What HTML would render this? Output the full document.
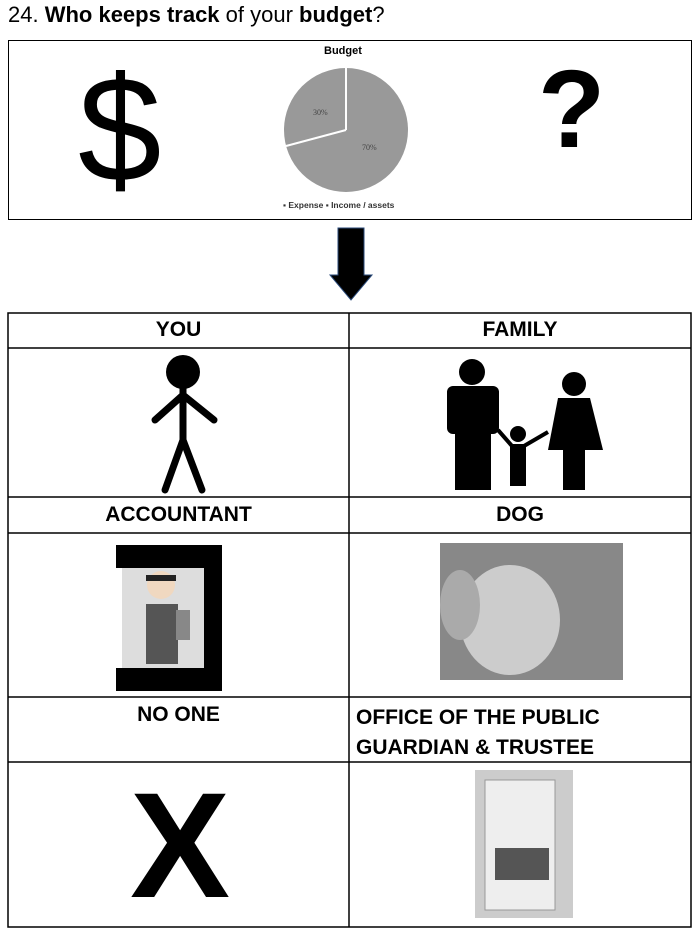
<!DOCTYPE html><html><head><style>
body{margin:0;width:700px;height:934px;background:#fff;font-family:"Liberation Sans",sans-serif;position:relative;overflow:hidden}
.a{position:absolute}
.h{position:absolute;font-weight:bold;font-size:21px;text-align:center}
</style></head><body>
<div class="a" style="left:8px;top:2px;font-size:22px;">24. <b>Who keeps track</b> of your <b>budget</b>?</div>
<div class="a" style="left:8px;top:40px;width:682px;height:178px;border:1.5px solid #000"></div>
<div class="a" style="left:78px;top:44px;font-size:150px;line-height:170px;">$</div>
<div class="a" style="left:538px;top:50px;font-size:110px;font-weight:bold;line-height:120px;">?</div>
<div class="a" style="left:324px;top:45px;font-size:11px;font-weight:bold;">Budget</div>
<svg class="a" style="left:0;top:0" width="700" height="934">
<circle cx="346" cy="130" r="62" fill="#999"/>
<path d="M346 130 L346 68 M346 130 L286 146" stroke="#fff" stroke-width="2"/>
<text x="313" y="115" font-size="8" fill="#444" font-family="Liberation Serif">30%</text>
<text x="362" y="150" font-size="8" fill="#444" font-family="Liberation Serif">70%</text>
<text x="283" y="208" font-size="8.5" fill="#333" font-weight="bold">▪ Expense  ▪ Income / assets</text>
<polygon points="338,228 364,228 364,275 372,275 351,300 330,275 338,275" fill="#000" stroke="#2a4a7a" stroke-width="1"/>
<g stroke="#000" stroke-width="1.5" fill="none">
<rect x="8" y="313" width="683" height="614"/>
<line x1="349" y1="313" x2="349" y2="927"/>
<line x1="8" y1="348" x2="691" y2="348"/><line x1="8" y1="497" x2="691" y2="497"/>
<line x1="8" y1="533" x2="691" y2="533"/><line x1="8" y1="697" x2="691" y2="697"/>
<line x1="8" y1="762" x2="691" y2="762"/>
</g>
<!-- stick figure -->
<circle cx="183" cy="372" r="17" fill="#000"/>
<g stroke="#000" stroke-width="7" stroke-linecap="round"><line x1="183" y1="388" x2="183" y2="440"/><line x1="183" y1="395" x2="155" y2="420"/><line x1="183" y1="395" x2="214" y2="420"/><line x1="183" y1="440" x2="165" y2="490"/><line x1="183" y1="440" x2="202" y2="490"/></g>
<!-- family -->
<circle cx="472" cy="372" r="13" fill="#000"/>
<rect x="447" y="386" width="52" height="48" rx="6" fill="#000"/>
<rect x="455" y="430" width="36" height="60" fill="#000"/>
<circle cx="518" cy="434" r="8" fill="#000"/>
<rect x="510" y="444" width="16" height="42" fill="#000"/>
<path d="M498 430 L512 446 M524 446 L548 432" stroke="#000" stroke-width="4"/>
<circle cx="574" cy="384" r="12" fill="#000"/>
<path d="M558 398 L590 398 L603 450 L548 450 Z" fill="#000"/>
<rect x="563" y="448" width="22" height="42" fill="#000"/>
<!-- accountant -->
<path d="M116 545 L222 545 L222 691 L116 691 L116 668 L204 668 L204 568 L116 568 Z" fill="#000"/>
<rect x="122" y="568" width="82" height="100" fill="#ddd"/>
<circle cx="161" cy="585" r="14" fill="#f0d8c0"/><rect x="146" y="575" width="30" height="6" fill="#222"/>
<rect x="146" y="604" width="32" height="60" fill="#555"/>
<rect x="176" y="610" width="14" height="30" fill="#888"/>
<!-- dog -->
<rect x="440" y="543" width="183" height="137" fill="#888"/>
<ellipse cx="510" cy="620" rx="50" ry="55" fill="#ccc"/>
<ellipse cx="460" cy="605" rx="20" ry="35" fill="#aaa"/>
<!-- brochure -->
<rect x="475" y="770" width="98" height="148" fill="#ccc"/>
<rect x="485" y="780" width="70" height="130" fill="#eee" stroke="#999"/>
<rect x="495" y="848" width="54" height="32" fill="#555"/>
</svg>
<div class="h" style="left:8px;top:318px;width:341px">YOU</div>
<div class="h" style="left:349px;top:318px;width:342px">FAMILY</div>
<div class="h" style="left:8px;top:503px;width:341px">ACCOUNTANT</div>
<div class="h" style="left:349px;top:503px;width:342px">DOG</div>
<div class="h" style="left:8px;top:703px;width:341px">NO ONE</div>
<div class="h" style="left:356px;top:703px;text-align:left;line-height:30px">OFFICE OF THE PUBLIC<br>GUARDIAN &amp; TRUSTEE</div>
<div class="a" style="left:130px;top:770px;font-size:150px;font-weight:bold;line-height:150px">X</div>
</body></html>
